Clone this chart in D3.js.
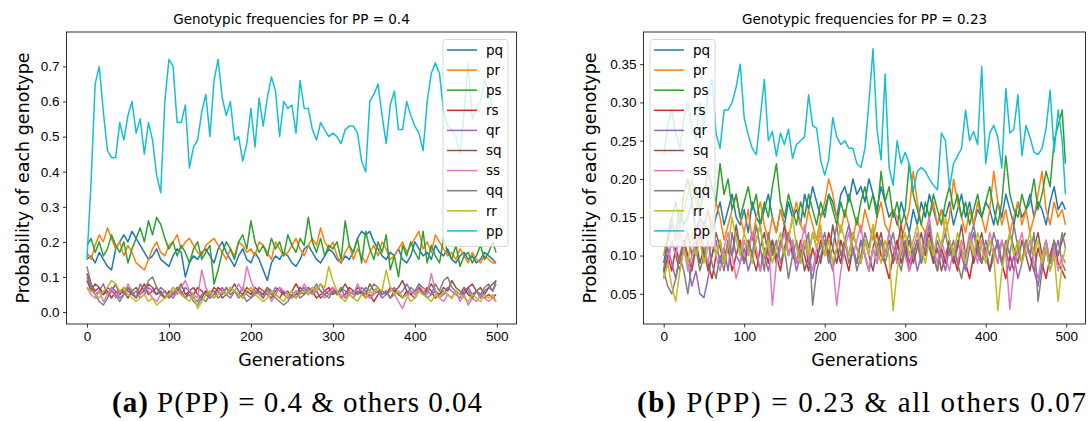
<!DOCTYPE html>
<html lang="en">
<head>
  <meta charset="UTF-8">
  <title>Genotypic frequencies</title>
  <script src="https://d3js.org/d3.v7.min.js"></script>
  <style>
    body { margin: 0; background: #fff; }
    svg { display: block; font-family: "DejaVu Sans", sans-serif; }
    .tick text { font-size: 13.5px; fill: #000; }
    .caption { font-family: "Liberation Serif", serif; font-size: 29px; }
  </style>
</head>
<body>
  <svg id="chart" width="1091" height="421"></svg>

  <script>
    // generations sampled every 5 steps (plus the last one)
    const gens = d3.range(0, 500, 5).concat([499]);
    const genotypes = ["pq", "pr", "ps", "rs", "qr", "sq", "ss", "qq", "rr", "pp"];
    const colors = ["#1f77b4", "#ff7f0e", "#2ca02c", "#d62728", "#9467bd",
                    "#8c564b", "#e377c2", "#7f7f7f", "#bcbd22", "#17becf"];
    const xTicks = [0, 100, 200, 300, 400, 500];
    const yTicksA = [0.0, 0.1, 0.2, 0.3, 0.4, 0.5, 0.6, 0.7];
    const yTicksB = [0.05, 0.10, 0.15, 0.20, 0.25, 0.30, 0.35];

    // ---- panel (a): PP = 0.4 ----
    const pqA = [0.15,0.16,0.14,0.17,0.15,0.13,0.12,0.18,0.2,0.22,0.2,0.23,0.21,0.19,0.17,0.15,0.16,0.18,0.15,0.14,
      0.13,0.16,0.18,0.17,0.1,0.14,0.16,0.15,0.17,0.18,0.16,0.14,0.18,0.2,0.17,0.15,0.13,0.16,0.18,0.15,
      0.14,0.17,0.15,0.12,0.09,0.14,0.16,0.15,0.17,0.16,0.14,0.13,0.15,0.18,0.19,0.17,0.15,0.14,0.16,0.18,
      0.17,0.15,0.14,0.16,0.15,0.17,0.21,0.23,0.22,0.23,0.2,0.18,0.16,0.15,0.17,0.16,0.18,0.15,0.14,0.16,
      0.2,0.18,0.16,0.17,0.15,0.19,0.17,0.16,0.18,0.15,0.14,0.16,0.17,0.15,0.16,0.14,0.15,0.17,0.16,0.15,0.14];
    const prA = [0.17,0.15,0.19,0.22,0.2,0.24,0.21,0.18,0.2,0.16,0.19,0.17,0.14,0.13,0.12,0.15,0.18,0.2,0.17,0.16,
      0.19,0.2,0.22,0.18,0.2,0.21,0.19,0.17,0.16,0.19,0.2,0.21,0.19,0.17,0.15,0.18,0.16,0.2,0.19,0.17,
      0.18,0.16,0.2,0.19,0.17,0.15,0.2,0.18,0.16,0.17,0.19,0.21,0.18,0.16,0.19,0.21,0.19,0.24,0.2,0.18,
      0.2,0.16,0.14,0.17,0.19,0.15,0.18,0.16,0.14,0.17,0.19,0.16,0.2,0.18,0.15,0.16,0.18,0.2,0.17,0.19,
      0.21,0.23,0.18,0.2,0.17,0.22,0.2,0.18,0.16,0.17,0.15,0.18,0.16,0.14,0.17,0.15,0.14,0.16,0.15,0.14,0.14];
    const psA = [0.19,0.21,0.17,0.2,0.16,0.18,0.22,0.19,0.17,0.2,0.14,0.18,0.21,0.24,0.2,0.26,0.22,0.27,0.25,0.21,
      0.18,0.2,0.16,0.19,0.17,0.14,0.18,0.2,0.15,0.17,0.19,0.08,0.12,0.17,0.2,0.18,0.15,0.2,0.22,0.18,
      0.26,0.2,0.17,0.19,0.16,0.21,0.18,0.2,0.16,0.22,0.19,0.17,0.21,0.19,0.27,0.2,0.17,0.21,0.16,0.19,
      0.18,0.2,0.15,0.26,0.19,0.17,0.21,0.14,0.23,0.18,0.15,0.2,0.17,0.22,0.12,0.16,0.1,0.19,0.16,0.2,
      0.17,0.15,0.23,0.14,0.19,0.16,0.14,0.21,0.17,0.15,0.19,0.13,0.16,0.17,0.14,0.16,0.19,0.15,0.17,0.2,0.17];
    const rsA = [0.11,0.08,0.06,0.07,0.05,0.06,0.04,0.06,0.05,0.07,0.06,0.05,0.04,0.06,0.08,0.05,0.06,0.07,0.05,0.04,
      0.06,0.05,0.07,0.05,0.04,0.06,0.05,0.07,0.06,0.05,0.04,0.05,0.07,0.06,0.05,0.07,0.06,0.05,0.04,0.06,
      0.05,0.07,0.06,0.05,0.07,0.06,0.05,0.04,0.06,0.05,0.06,0.08,0.06,0.05,0.07,0.06,0.04,0.05,0.06,0.07,
      0.05,0.06,0.04,0.05,0.07,0.06,0.05,0.06,0.04,0.05,0.03,0.05,0.06,0.05,0.07,0.06,0.05,0.04,0.06,0.05,
      0.04,0.06,0.05,0.07,0.06,0.04,0.05,0.06,0.05,0.04,0.06,0.05,0.07,0.05,0.04,0.06,0.05,0.04,0.05,0.04,0.05];
    const qrA = [0.1,0.07,0.05,0.06,0.08,0.05,0.07,0.06,0.04,0.05,0.07,0.05,0.06,0.04,0.05,0.07,0.06,0.05,0.07,0.06,
      0.05,0.04,0.06,0.05,0.07,0.06,0.04,0.03,0.05,0.06,0.04,0.05,0.06,0.07,0.05,0.04,0.06,0.05,0.07,0.05,
      0.04,0.06,0.05,0.04,0.06,0.05,0.07,0.06,0.05,0.04,0.05,0.06,0.04,0.05,0.07,0.05,0.06,0.08,0.06,0.05,
      0.06,0.05,0.07,0.04,0.05,0.06,0.05,0.07,0.06,0.04,0.05,0.06,0.04,0.05,0.06,0.07,0.05,0.06,0.08,0.06,
      0.05,0.07,0.06,0.04,0.05,0.06,0.04,0.05,0.07,0.06,0.05,0.04,0.06,0.07,0.05,0.06,0.04,0.06,0.07,0.06,0.08];
    const sqA = [0.09,0.06,0.08,0.07,0.05,0.07,0.06,0.08,0.05,0.06,0.04,0.06,0.07,0.05,0.06,0.08,0.07,0.05,0.06,0.04,
      0.05,0.07,0.06,0.08,0.05,0.06,0.07,0.05,0.04,0.06,0.05,0.07,0.06,0.04,0.05,0.06,0.08,0.06,0.05,0.07,
      0.06,0.05,0.07,0.06,0.05,0.04,0.06,0.07,0.05,0.06,0.04,0.05,0.07,0.06,0.05,0.07,0.06,0.04,0.05,0.06,
      0.07,0.05,0.06,0.08,0.06,0.05,0.07,0.06,0.05,0.08,0.06,0.07,0.05,0.06,0.04,0.06,0.07,0.09,0.06,0.05,
      0.06,0.07,0.05,0.06,0.08,0.06,0.05,0.07,0.06,0.09,0.07,0.06,0.05,0.07,0.08,0.06,0.07,0.05,0.07,0.08,0.09];
    const ssA = [0.07,0.05,0.04,0.06,0.03,0.05,0.07,0.04,0.06,0.05,0.08,0.06,0.04,0.05,0.07,0.06,0.04,0.03,0.05,0.06,
      0.04,0.06,0.05,0.07,0.09,0.06,0.05,0.04,0.12,0.07,0.05,0.04,0.06,0.05,0.07,0.05,0.06,0.08,0.06,0.13,
      0.09,0.06,0.05,0.04,0.06,0.03,0.05,0.07,0.06,0.05,0.04,0.06,0.05,0.08,0.06,0.05,0.07,0.06,0.04,0.05,
      0.07,0.06,0.05,0.04,0.06,0.05,0.08,0.06,0.05,0.04,0.06,0.07,0.05,0.06,0.04,0.05,0.03,0.01,0.04,0.06,
      0.05,0.08,0.06,0.05,0.11,0.06,0.04,0.03,0.05,0.04,0.06,0.03,0.05,0.02,0.04,0.03,0.05,0.04,0.03,0.04,0.03];
    const qqA = [0.13,0.08,0.05,0.03,0.02,0.04,0.06,0.05,0.03,0.05,0.07,0.06,0.04,0.08,0.06,0.09,0.1,0.07,0.05,0.06,
      0.04,0.05,0.07,0.06,0.04,0.05,0.03,0.02,0.04,0.03,0.05,0.06,0.04,0.05,0.07,0.05,0.06,0.04,0.05,0.03,
      0.04,0.05,0.06,0.04,0.07,0.05,0.04,0.03,0.02,0.03,0.05,0.04,0.06,0.07,0.05,0.06,0.08,0.06,0.05,0.04,
      0.06,0.05,0.07,0.06,0.05,0.04,0.06,0.05,0.07,0.06,0.08,0.07,0.05,0.06,0.04,0.05,0.06,0.04,0.05,0.07,
      0.06,0.08,0.07,0.06,0.05,0.08,0.06,0.09,0.1,0.07,0.06,0.05,0.07,0.06,0.04,0.06,0.05,0.07,0.08,0.06,0.09];
    const rrA = [0.07,0.06,0.05,0.04,0.06,0.07,0.09,0.08,0.06,0.07,0.05,0.04,0.03,0.04,0.05,0.03,0.04,0.02,0.03,0.04,
      0.05,0.07,0.06,0.05,0.04,0.03,0.05,0.01,0.03,0.05,0.06,0.04,0.05,0.06,0.05,0.07,0.06,0.05,0.04,0.06,
      0.07,0.05,0.04,0.03,0.04,0.06,0.05,0.04,0.03,0.05,0.06,0.04,0.05,0.06,0.05,0.07,0.06,0.08,0.07,0.13,
      0.09,0.06,0.04,0.03,0.05,0.04,0.03,0.05,0.04,0.06,0.05,0.07,0.06,0.12,0.07,0.05,0.06,0.04,0.05,0.03,
      0.04,0.06,0.05,0.04,0.03,0.05,0.04,0.06,0.05,0.04,0.06,0.05,0.04,0.03,0.05,0.04,0.03,0.05,0.04,0.05,0.03];
    const ppA = [0.15,0.37,0.65,0.7,0.57,0.46,0.44,0.44,0.54,0.49,0.56,0.6,0.51,0.55,0.45,0.54,0.49,0.39,0.34,0.6,
      0.72,0.7,0.54,0.54,0.59,0.41,0.47,0.49,0.57,0.62,0.5,0.66,0.72,0.61,0.56,0.6,0.49,0.5,0.43,0.48,
      0.58,0.47,0.61,0.53,0.61,0.67,0.63,0.5,0.6,0.58,0.59,0.51,0.66,0.58,0.58,0.52,0.49,0.54,0.52,0.5,
      0.51,0.5,0.48,0.52,0.53,0.53,0.51,0.43,0.4,0.6,0.62,0.65,0.56,0.48,0.59,0.63,0.52,0.52,0.6,0.56,
      0.53,0.51,0.46,0.6,0.68,0.71,0.68,0.57,0.53,0.52,0.5,0.45,0.57,0.71,0.55,0.58,0.6,0.66,0.63,0.58,0.56];

    // ---- panel (b): PP = 0.23 ----
    const pqB = [0.09,0.12,0.14,0.13,0.16,0.14,0.15,0.17,0.13,0.15,0.14,0.16,0.13,0.15,0.17,0.14,0.16,0.18,0.15,0.14,
      0.16,0.13,0.17,0.15,0.14,0.16,0.18,0.15,0.13,0.16,0.14,0.17,0.15,0.16,0.14,0.18,0.16,0.19,0.17,0.15,
      0.16,0.18,0.17,0.15,0.18,0.19,0.17,0.2,0.18,0.19,0.17,0.2,0.18,0.16,0.19,0.17,0.15,0.16,0.14,0.17,
      0.15,0.13,0.16,0.14,0.17,0.15,0.18,0.16,0.14,0.16,0.15,0.17,0.14,0.16,0.18,0.15,0.17,0.14,0.16,0.15,
      0.17,0.16,0.14,0.17,0.15,0.18,0.16,0.14,0.17,0.15,0.16,0.18,0.15,0.17,0.16,0.14,0.17,0.19,0.16,0.17,0.16];
    const prB = [0.1,0.13,0.15,0.12,0.14,0.16,0.18,0.2,0.17,0.15,0.13,0.16,0.14,0.17,0.15,0.12,0.14,0.16,0.18,0.15,
      0.13,0.16,0.12,0.15,0.17,0.14,0.12,0.15,0.13,0.16,0.14,0.12,0.15,0.17,0.14,0.13,0.16,0.14,0.12,0.15,
      0.17,0.2,0.18,0.15,0.13,0.16,0.14,0.12,0.15,0.13,0.16,0.14,0.12,0.15,0.17,0.14,0.13,0.16,0.15,0.12,
      0.14,0.16,0.21,0.17,0.14,0.13,0.15,0.17,0.14,0.16,0.13,0.15,0.2,0.17,0.15,0.13,0.16,0.14,0.17,0.15,
      0.13,0.16,0.21,0.17,0.14,0.16,0.13,0.15,0.17,0.14,0.16,0.13,0.15,0.18,0.21,0.16,0.14,0.17,0.15,0.16,0.14];
    const psB = [0.08,0.12,0.15,0.17,0.14,0.18,0.2,0.17,0.19,0.16,0.18,0.21,0.19,0.17,0.22,0.18,0.2,0.16,0.18,0.15,
      0.17,0.19,0.16,0.18,0.14,0.17,0.15,0.19,0.22,0.17,0.15,0.18,0.16,0.14,0.17,0.15,0.18,0.16,0.14,0.17,
      0.15,0.18,0.16,0.14,0.17,0.15,0.18,0.16,0.14,0.17,0.19,0.16,0.18,0.15,0.21,0.17,0.19,0.15,0.17,0.14,
      0.16,0.22,0.18,0.16,0.14,0.17,0.15,0.18,0.16,0.14,0.17,0.19,0.16,0.18,0.15,0.17,0.14,0.16,0.18,0.15,
      0.17,0.19,0.16,0.14,0.17,0.23,0.18,0.16,0.15,0.18,0.16,0.17,0.2,0.16,0.18,0.21,0.19,0.25,0.27,0.29,0.22];
    const rsB = [0.07,0.1,0.08,0.11,0.09,0.12,0.1,0.08,0.11,0.13,0.1,0.09,0.07,0.1,0.12,0.09,0.11,0.08,0.1,0.12,
      0.09,0.11,0.13,0.1,0.08,0.11,0.09,0.12,0.1,0.08,0.11,0.13,0.1,0.09,0.12,0.1,0.08,0.11,0.09,0.12,
      0.1,0.13,0.11,0.09,0.12,0.1,0.08,0.11,0.09,0.12,0.1,0.08,0.11,0.13,0.1,0.09,0.07,0.1,0.12,0.09,
      0.11,0.08,0.1,0.12,0.09,0.11,0.13,0.1,0.08,0.11,0.09,0.12,0.1,0.08,0.11,0.09,0.07,0.1,0.12,0.09,
      0.11,0.08,0.1,0.12,0.09,0.07,0.1,0.08,0.11,0.09,0.12,0.1,0.08,0.11,0.09,0.07,0.1,0.12,0.09,0.08,0.07];
    const qrB = [0.08,0.11,0.09,0.07,0.1,0.12,0.09,0.06,0.08,0.05,0.045,0.07,0.1,0.12,0.09,0.11,0.08,0.13,0.1,0.09,
      0.11,0.08,0.1,0.12,0.14,0.1,0.08,0.11,0.09,0.12,0.1,0.13,0.11,0.08,0.1,0.12,0.09,0.07,0.1,0.11,
      0.13,0.1,0.08,0.11,0.09,0.12,0.14,0.11,0.09,0.12,0.1,0.08,0.11,0.09,0.12,0.1,0.13,0.11,0.09,0.1,
      0.12,0.09,0.11,0.08,0.1,0.13,0.11,0.09,0.12,0.1,0.08,0.11,0.09,0.12,0.1,0.08,0.11,0.13,0.1,0.09,
      0.11,0.08,0.1,0.12,0.09,0.11,0.08,0.1,0.07,0.09,0.12,0.1,0.08,0.06,0.09,0.11,0.08,0.1,0.12,0.09,0.08];
    const sqB = [0.08,0.09,0.12,0.1,0.08,0.11,0.13,0.1,0.12,0.09,0.11,0.08,0.1,0.13,0.11,0.09,0.12,0.1,0.14,0.11,
      0.09,0.12,0.1,0.08,0.11,0.13,0.1,0.12,0.09,0.11,0.14,0.1,0.12,0.09,0.11,0.08,0.1,0.13,0.11,0.09,
      0.12,0.1,0.14,0.11,0.09,0.12,0.1,0.13,0.11,0.09,0.12,0.1,0.08,0.11,0.13,0.1,0.12,0.09,0.11,0.14,
      0.1,0.12,0.09,0.11,0.13,0.1,0.12,0.09,0.11,0.08,0.1,0.12,0.09,0.11,0.14,0.1,0.12,0.09,0.11,0.13,
      0.1,0.08,0.11,0.09,0.12,0.1,0.13,0.11,0.09,0.12,0.1,0.08,0.11,0.13,0.1,0.12,0.09,0.11,0.1,0.12,0.13];
    const ssB = [0.07,0.09,0.12,0.1,0.13,0.11,0.08,0.1,0.12,0.14,0.11,0.09,0.12,0.1,0.08,0.11,0.13,0.1,0.07,0.09,
      0.12,0.1,0.13,0.11,0.08,0.1,0.12,0.035,0.09,0.11,0.13,0.1,0.12,0.09,0.11,0.14,0.1,0.08,0.11,0.13,
      0.1,0.12,0.09,0.035,0.08,0.11,0.13,0.1,0.12,0.14,0.1,0.08,0.11,0.09,0.12,0.1,0.13,0.11,0.09,0.12,
      0.1,0.08,0.11,0.13,0.1,0.12,0.15,0.11,0.09,0.12,0.1,0.08,0.11,0.09,0.12,0.1,0.13,0.11,0.09,0.12,
      0.1,0.13,0.11,0.09,0.12,0.1,0.03,0.08,0.11,0.13,0.1,0.12,0.09,0.07,0.1,0.12,0.09,0.11,0.08,0.1,0.09];
    const qqB = [0.08,0.06,0.05,0.07,0.1,0.08,0.05,0.09,0.11,0.08,0.1,0.12,0.09,0.07,0.1,0.08,0.12,0.1,0.13,0.11,
      0.09,0.12,0.1,0.14,0.11,0.08,0.13,0.1,0.12,0.09,0.11,0.07,0.1,0.12,0.09,0.11,0.13,0.035,0.08,0.1,
      0.12,0.09,0.11,0.14,0.1,0.12,0.09,0.11,0.08,0.1,0.13,0.11,0.14,0.1,0.12,0.09,0.11,0.13,0.1,0.08,
      0.11,0.13,0.1,0.12,0.09,0.11,0.14,0.1,0.08,0.11,0.13,0.1,0.12,0.09,0.07,0.1,0.12,0.14,0.11,0.09,
      0.12,0.1,0.13,0.11,0.09,0.12,0.1,0.14,0.11,0.09,0.12,0.1,0.13,0.04,0.08,0.11,0.09,0.12,0.1,0.13,0.11];
    const rrB = [0.07,0.09,0.06,0.04,0.08,0.11,0.09,0.13,0.1,0.12,0.09,0.11,0.14,0.1,0.12,0.09,0.11,0.15,0.12,0.1,
      0.13,0.11,0.09,0.12,0.14,0.1,0.12,0.09,0.11,0.13,0.1,0.12,0.15,0.11,0.09,0.12,0.1,0.13,0.11,0.14,
      0.1,0.12,0.09,0.11,0.14,0.12,0.1,0.13,0.11,0.09,0.12,0.1,0.14,0.11,0.09,0.12,0.1,0.028,0.08,0.11,
      0.13,0.1,0.12,0.14,0.11,0.09,0.12,0.1,0.13,0.11,0.15,0.12,0.1,0.13,0.11,0.09,0.12,0.1,0.13,0.11,
      0.09,0.12,0.1,0.028,0.08,0.11,0.13,0.1,0.12,0.09,0.11,0.13,0.1,0.12,0.09,0.11,0.08,0.1,0.04,0.09,0.11];
    const ppB = [0.23,0.27,0.29,0.26,0.24,0.28,0.3,0.27,0.25,0.3,0.27,0.31,0.33,0.26,0.24,0.29,0.29,0.3,0.32,0.35,
      0.28,0.258,0.24,0.232,0.28,0.33,0.25,0.262,0.23,0.26,0.245,0.265,0.227,0.245,0.25,0.255,0.31,0.27,0.266,0.225,
      0.205,0.225,0.28,0.255,0.245,0.25,0.24,0.24,0.22,0.215,0.24,0.3,0.37,0.265,0.225,0.337,0.215,0.192,0.25,0.22,
      0.235,0.22,0.184,0.21,0.215,0.21,0.2,0.192,0.186,0.26,0.25,0.188,0.22,0.23,0.24,0.29,0.25,0.262,0.245,0.347,
      0.22,0.26,0.27,0.255,0.214,0.318,0.26,0.265,0.31,0.23,0.27,0.255,0.235,0.232,0.24,0.266,0.316,0.235,0.29,0.25,0.18];

    const svg = d3.select("#chart");
    const yTop = 32, yBottom = 324;

    function drawPanel(p) {
      const x = d3.scaleLinear().domain([-24.95, 523.95]).range([p.left, p.right]);
      const y = d3.scaleLinear().domain(p.yDomain).range([yBottom, yTop]);
      const g = svg.append("g");

      g.append("clipPath").attr("id", p.id)
        .append("rect")
        .attr("x", p.left).attr("y", yTop)
        .attr("width", p.right - p.left).attr("height", yBottom - yTop);

      const line = d3.line().x((d, i) => x(gens[i])).y(d => y(d));
      g.append("g").attr("clip-path", `url(#${p.id})`)
        .selectAll("path")
        .data(p.series)
        .join("path")
        .attr("d", d => line(d))
        .attr("fill", "none")
        .attr("stroke", (d, i) => colors[i])
        .attr("stroke-width", 1.5)
        .attr("stroke-linejoin", "round");

      g.append("g")
        .attr("transform", `translate(0,${yBottom})`)
        .call(d3.axisBottom(x).tickValues(xTicks).tickSize(3.5).tickPadding(3.5).tickFormat(d3.format("d")))
        .call(a => a.select(".domain").remove());

      g.append("g")
        .attr("transform", `translate(${p.left},0)`)
        .call(d3.axisLeft(y).tickValues(p.yTicks).tickSize(3.5).tickPadding(3.5).tickFormat(d3.format(p.fmt)))
        .call(a => a.select(".domain").remove());

      g.selectAll(".tick line").attr("stroke", "#000").attr("stroke-width", 0.8);

      g.append("rect")
        .attr("x", p.left).attr("y", yTop)
        .attr("width", p.right - p.left).attr("height", yBottom - yTop)
        .attr("fill", "none").attr("stroke", "#000").attr("stroke-width", 0.8);

      const cx = (p.left + p.right) / 2;
      g.append("text")
        .attr("x", cx).attr("y", 24)
        .attr("text-anchor", "middle")
        .style("font-size", "13.5px")
        .text(p.title);

      g.append("text")
        .attr("x", cx).attr("y", 366)
        .attr("text-anchor", "middle")
        .style("font-size", "17.5px")
        .text("Generations");

      g.append("text")
        .attr("transform", `translate(${p.ylabelX},${(yTop + yBottom) / 2}) rotate(-90)`)
        .attr("text-anchor", "middle")
        .style("font-size", "17.5px")
        .text("Probability of each genotype");

      // legend
      const lg = g.append("g").attr("transform", `translate(${p.legendX},39.5)`);
      lg.append("rect")
        .attr("width", 65).attr("height", 207).attr("rx", 3)
        .attr("fill", "#fff").attr("fill-opacity", 0.8)
        .attr("stroke", "#ccc").attr("stroke-opacity", 0.8);
      const items = lg.selectAll("g.item")
        .data(genotypes)
        .join("g")
        .attr("class", "item")
        .attr("transform", (d, i) => `translate(0,${10.5 + i * 20.1})`);
      items.append("line")
        .attr("x1", 4).attr("x2", 34)
        .attr("stroke", (d, i) => colors[i]).attr("stroke-width", 1.5);
      items.append("text")
        .attr("x", 43).attr("dy", "0.35em")
        .style("font-size", "13.5px")
        .text(d => d);

      // caption
      const cap = svg.append("text")
        .attr("class", "caption")
        .attr("x", p.capX).attr("y", 412)
        .attr("textLength", p.capLen).attr("lengthAdjust", "spacing");
      cap.append("tspan").style("font-weight", "bold").text(p.capTag);
      cap.append("tspan").text(" " + p.capText);
    }

    drawPanel({
      id: "clipA", left: 66.5, right: 516.5,
      yDomain: [-0.034, 0.798], yTicks: yTicksA, fmt: ".1f",
      series: [pqA, prA, psA, rsA, qrA, sqA, ssA, qqA, rrA, ppA],
      title: "Genotypic frequencies for PP = 0.4",
      ylabelX: 29, legendX: 443,
      capX: 112, capLen: 370, capTag: "(a)", capText: "P(PP) = 0.4 & others 0.04"
    });

    drawPanel({
      id: "clipB", left: 643.6, right: 1085.5,
      yDomain: [0.0106, 0.392], yTicks: yTicksB, fmt: ".2f",
      series: [pqB, prB, psB, rsB, qrB, sqB, ssB, qqB, rrB, ppB],
      title: "Genotypic frequencies for PP = 0.23",
      ylabelX: 596, legendX: 650,
      capX: 637, capLen: 449, capTag: "(b)", capText: "P(PP) = 0.23 & all others 0.07"
    });
  </script>
</body>
</html>
